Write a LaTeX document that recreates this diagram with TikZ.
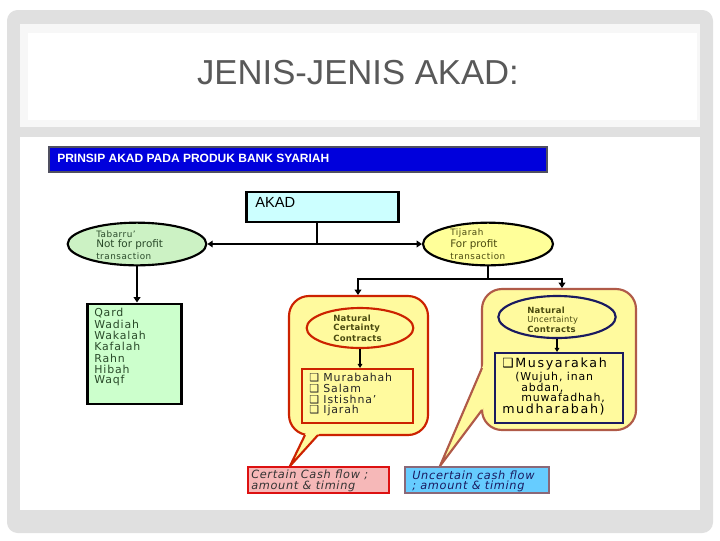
\documentclass[tikz,border=0pt]{standalone}
\usepackage{fontspec}
\usepackage{graphicx}
\setmainfont{DejaVu Sans}
\newfontfamily\arl{Liberation Sans}
\newfontfamily\dvsm[LetterSpace=6]{DejaVu Sans}
\newfontfamily\dvna[LetterSpace=3]{DejaVu Sans}
\newfontfamily\dvls[LetterSpace=8]{DejaVu Sans}
\newfontfamily\dvxl[LetterSpace=13]{DejaVu Sans}
\newfontfamily\dvit[LetterSpace=6]{DejaVu Sans}
\usetikzlibrary{arrows.meta,shapes.geometric}
\definecolor{framegray}{HTML}{E0E0E0}
\definecolor{titlebg}{HTML}{F7F7F7}
\definecolor{titlegray}{HTML}{595959}
\definecolor{hdrblue}{HTML}{0000DC}
\definecolor{hdrborder}{HTML}{505060}
\definecolor{akadfill}{HTML}{CCFFFF}
\definecolor{tabfill}{HTML}{CCF2C4}
\definecolor{tijfill}{HTML}{FFFF99}
\definecolor{listgreen}{HTML}{CCFFCC}
\definecolor{calloutfill}{HTML}{FFFA9E}
\definecolor{redbd}{HTML}{CC2200}
\definecolor{brownbd}{HTML}{B05A48}
\definecolor{navybd}{HTML}{1A1A60}
\definecolor{olivetxt}{HTML}{4A4A10}
\definecolor{greentxt}{HTML}{2A4A2A}
\definecolor{pinkfill}{HTML}{F6B8B8}
\definecolor{redbox}{HTML}{DD1111}
\definecolor{bluefill}{HTML}{66CCFF}
\definecolor{bluebd}{HTML}{8A6878}
\definecolor{navytxt}{HTML}{1A1A60}
\begin{document}
\begin{tikzpicture}[x=0.75pt,y=-0.75pt,
  conn/.style={line width=1.5pt},
  arr/.style={line width=1.5pt,-{Triangle[length=4pt,width=5pt]}},
  thinarr/.style={line width=0.8pt,-{Triangle[length=3pt,width=3.5pt]}},
  txt/.style={anchor=west,inner sep=0pt},
  smalltxt/.style={txt,font=\dvsm\fontsize{6.6}{8}\selectfont},
  midtxt/.style={txt,font=\fontsize{7.8}{9}\selectfont},
  listtxt/.style={txt,font=\dvls\fontsize{8.2}{9}\selectfont},
  bigtxt/.style={txt,font=\dvxl\fontsize{9.5}{11}\selectfont},
  natxt/.style={txt,font=\dvna\bfseries\fontsize{6.4}{7}\selectfont,text=olivetxt},
  cashtxt/.style={txt,font=\dvit\itshape\fontsize{8.5}{9}\selectfont},
  callout/.style={fill=calloutfill,line width=1.6pt,rounded corners=15pt},
]
\useasboundingbox (0,0) rectangle (720,540);
\fill[white] (0,0) rectangle (720,540);
\fill[framegray,rounded corners=8pt] (7,10) rectangle (713,533);
\fill[titlebg] (20,24) rectangle (700,127);
\fill[white] (28,33) rectangle (697,120);
\fill[white] (20,137) rectangle (700,510);
\node[font=\arl\fontsize{26}{30}\selectfont,text=titlegray,inner sep=0pt] (title) at (358,73) {JENIS-JENIS AKAD:};

% header bar
\node[draw=hdrborder,line width=1.5pt,fill=hdrblue,minimum width=373.5pt,minimum height=18.75pt,inner sep=0pt] (hdr) at (298,159.5) {};
\node[txt,font=\arl\bfseries\fontsize{9}{10}\selectfont,text=white] (hdrtxt) at (57,158) {PRINSIP AKAD PADA PRODUK BANK SYARIAH};

% AKAD
\node[draw=black,line width=2.2pt,fill=akadfill,minimum width=114pt,minimum height=22.5pt,inner sep=0pt] (akad) at (322.5,207) {};
\node[txt,font=\arl\fontsize{11}{12}\selectfont] (akadtxt) at (255,202) {AKAD};

% ellipses
\node[ellipse,draw=black,line width=1.6pt,fill=tabfill,minimum width=104pt,minimum height=32pt,inner sep=0pt] (tab) at (137,244) {};
\node[ellipse,draw=black,line width=1.6pt,fill=tijfill,minimum width=97.5pt,minimum height=32pt,inner sep=0pt] (tij) at (488,244) {};
\node[smalltxt,text=greentxt] (tab1) at (96,234) {Tabarru’};
\node[midtxt,text=greentxt] (tab2) at (96,245) {Not for profit};
\node[smalltxt,text=greentxt] (tab3) at (96,256) {transaction};
\node[smalltxt,text=olivetxt] (tij1) at (450,233) {Tijarah};
\node[midtxt,text=olivetxt] (tij2) at (450,245) {For profit};
\node[smalltxt,text=olivetxt] (tij3) at (450,256) {transaction};

\coordinate (j1) at (317,244);
\draw[conn] (akad.south -| j1) -- (j1);
\draw[arr] (j1) -- (tab.east);
\draw[arr] (j1) -- (tij.west);

% green list
\node[draw=black,line width=2.2pt,fill=listgreen,minimum width=71pt,minimum height=75pt,inner sep=0pt] (glist) at (134.5,354) {};
\draw[arr] (tab.south) -- (tab.south |- glist.north);
\foreach \t [count=\i from 0] in {Qard,Wadiah,Wakalah,Kafalah,Rahn,Hibah,Waqf}
  \node[listtxt,text=greentxt] (g\i) at (94,{313+11.3*\i}) {\t};

% callouts
\draw[callout,draw=redbd] (289,296) rectangle (428,435);
\fill[calloutfill] (306.9,431) -- (321.6,431) -- (290,466) -- cycle;
\draw[draw=redbd,line width=1.6pt] (305,435) -- (290,466) -- (318,435);
\draw[callout,draw=brownbd] (482,289) rectangle (636,430);
\fill[calloutfill] (486,358.7) -- (486,404.7) -- (440,466) -- cycle;
\draw[draw=brownbd,line width=1.6pt] (482,368) -- (440,466) -- (482,410);
\coordinate (lctop) at (358,295);
\coordinate (rctop) at (562,288);
\coordinate (j2) at (488,279);
\draw[conn] (tij.south) -- (j2);
\draw[arr] (j2) -| (lctop);
\draw[arr] (j2) -| (rctop);

% left callout content
\node[ellipse,draw=redbd,line width=1.6pt,fill=calloutfill,minimum width=80pt,minimum height=30pt,inner sep=0pt] (lce) at (360,328) {};
\node[natxt] (lce1) at (333,318) {Natural};
\node[natxt] (lce2) at (333,328) {Certainty};
\node[natxt] (lce3) at (333,338) {Contracts};
\node[draw=redbd,line width=1.6pt,fill=calloutfill,minimum width=83pt,minimum height=40.5pt,inner sep=0pt] (rlist) at (357.5,396) {};
\draw[thinarr] (lce.south) -- (lce.south |- rlist.north);
\foreach \t [count=\i from 0] in {Murabahah,Salam,Istishna’,Ijarah}
  \node[listtxt,text=black!85] (r\i) at (309,{378+10.7*\i}) {❑ \t};

% right callout content
\node[ellipse,draw=navybd,line width=1.6pt,fill=calloutfill,minimum width=88pt,minimum height=31.5pt,inner sep=0pt] (rce) at (557,317) {};
\node[natxt] (rce1) at (527,310) {Natural};
\node[natxt,font=\dvna\fontsize{6.2}{7}\selectfont] (rce2) at (527,320) {Uncertainty};
\node[natxt] (rce3) at (527,329) {Contracts};
\node[draw=navybd,line width=1.6pt,fill=calloutfill,minimum width=96pt,minimum height=52.5pt,inner sep=0pt] (blist) at (559,388) {};
\draw[thinarr] (rce.south) -- (rce.south |- blist.north);
\node[bigtxt] (b0) at (502,364) {❑Musyarakah};
\node[listtxt] (b1) at (515,377) {(Wujuh, inan};
\node[listtxt] (b2) at (521,388) {abdan,};
\node[listtxt] (b3) at (521,398) {muwafadhah,};
\node[bigtxt] (b4) at (502,410) {mudharabah)};

% cash flow boxes
\node[draw=redbox,line width=1.6pt,fill=pinkfill,minimum width=106pt,minimum height=19.5pt,inner sep=0pt] (cert) at (318.5,480) {};
\node[cashtxt,text=black!80] (cert1) at (251,475) {Certain Cash flow ;};
\node[cashtxt,text=black!80] (cert2) at (251,486) {amount \& timing};
\node[draw=bluebd,line width=1.6pt,fill=bluefill,minimum width=108pt,minimum height=19.5pt,inner sep=0pt] (unc) at (477,480) {};
\node[cashtxt,text=navytxt] (unc1) at (412,475) {Uncertain cash flow};
\node[cashtxt,text=navytxt] (unc2) at (412,486) {; amount \& timing};
\end{tikzpicture}
\end{document}
